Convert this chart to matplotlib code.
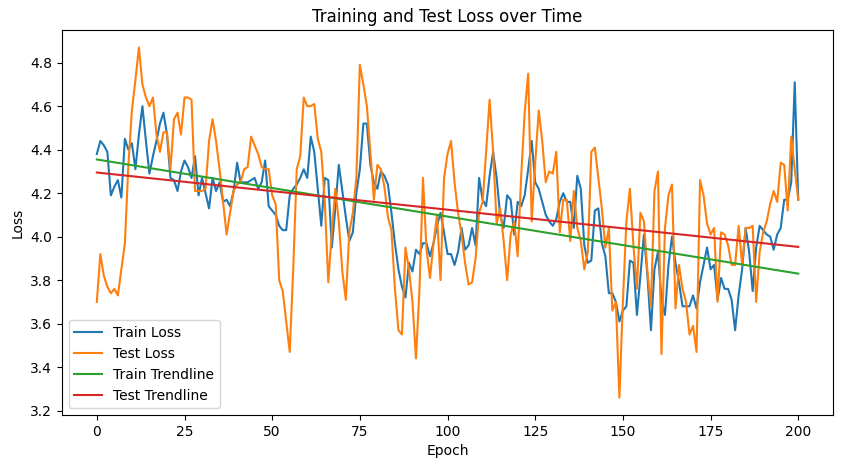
import numpy as np
import matplotlib
matplotlib.use("Agg")
import matplotlib.pyplot as plt

# valores (epoch 0..200)
train_loss = [
    4.38, 4.44, 4.42, 4.39, 4.19, 4.23, 4.26, 4.18, 4.45, 4.40,
    4.43, 4.31, 4.47, 4.60, 4.44, 4.29, 4.37, 4.44, 4.52, 4.57,
    4.47, 4.27, 4.26, 4.21, 4.30, 4.35, 4.32, 4.27, 4.37, 4.19,
    4.27, 4.20, 4.13, 4.27, 4.21, 4.25, 4.16, 4.17, 4.14, 4.21,
    4.34, 4.25, 4.25, 4.25, 4.26, 4.27, 4.22, 4.25, 4.35, 4.14,
    4.12, 4.10, 4.05, 4.03, 4.03, 4.19, 4.22, 4.24, 4.27, 4.31,
    4.27, 4.46, 4.39, 4.22, 4.05, 4.27, 4.26, 3.95, 4.13, 4.33,
    4.21, 4.09, 3.98, 4.02, 4.20, 4.31, 4.52, 4.52, 4.33, 4.25,
    4.22, 4.30, 4.28, 4.24, 4.11, 3.97, 3.85, 3.77, 3.72, 3.88,
    3.84, 3.94, 3.92, 3.97, 3.97, 3.91, 3.97, 4.05, 4.11, 4.02,
    3.92, 3.92, 3.87, 3.93, 4.04, 3.94, 3.96, 4.04, 3.96, 4.27,
    4.17, 4.14, 4.28, 4.39, 4.27, 4.10, 4.04, 4.19, 4.17, 4.01,
    4.16, 4.14, 4.19, 4.31, 4.44, 4.25, 4.22, 4.16, 4.10, 4.07,
    4.05, 4.08, 4.16, 4.20, 4.16, 4.16, 4.04, 4.28, 4.22, 3.96,
    3.88, 3.89, 4.12, 4.13, 3.97, 3.91, 3.74, 3.74, 3.70, 3.61,
    3.66, 3.68, 3.89, 3.88, 3.64, 3.82, 4.01, 3.82, 3.57, 3.85,
    3.93, 3.71, 3.64, 3.87, 4.00, 3.88, 3.79, 3.68, 3.68, 3.68,
    3.73, 3.67, 3.79, 3.87, 3.95, 3.85, 3.87, 3.71, 3.81, 3.76,
    3.76, 3.71, 3.57, 3.73, 3.85, 4.04, 3.93, 3.75, 3.95, 4.05,
    4.03, 4.01, 4.00, 3.94, 4.01, 4.04, 4.17, 4.17, 4.25, 4.71,
    4.17,
]
test_loss = [
    3.70, 3.92, 3.82, 3.77, 3.74, 3.76, 3.73, 3.85, 3.97, 4.33,
    4.58, 4.72, 4.87, 4.70, 4.64, 4.60, 4.64, 4.47, 4.39, 4.48,
    4.48, 4.31, 4.54, 4.57, 4.47, 4.64, 4.64, 4.63, 4.21, 4.21,
    4.21, 4.22, 4.44, 4.54, 4.44, 4.31, 4.16, 4.01, 4.11, 4.21,
    4.24, 4.25, 4.31, 4.32, 4.46, 4.42, 4.38, 4.32, 4.31, 4.31,
    4.19, 4.15, 3.80, 3.75, 3.61, 3.47, 3.85, 4.31, 4.37, 4.64,
    4.60, 4.60, 4.61, 4.45, 4.39, 4.16, 3.79, 4.02, 4.22, 4.07,
    3.84, 3.71, 4.02, 4.11, 4.27, 4.79, 4.70, 4.60, 4.39, 4.17,
    4.33, 4.31, 4.23, 4.09, 4.03, 3.76, 3.57, 3.55, 3.95, 3.85,
    3.70, 3.44, 3.76, 4.27, 3.94, 3.81, 3.97, 4.10, 3.80, 4.27,
    4.38, 4.44, 4.25, 4.11, 4.01, 3.88, 3.78, 3.79, 3.90, 4.11,
    4.16, 4.39, 4.63, 4.39, 4.06, 4.13, 3.98, 3.80, 4.01, 4.07,
    3.91, 4.28, 4.57, 4.75, 4.07, 4.34, 4.58, 4.44, 4.25, 4.30,
    4.29, 4.39, 4.02, 4.17, 4.17, 3.98, 4.21, 4.04, 3.98, 3.85,
    3.93, 4.39, 4.41, 4.27, 4.13, 3.95, 4.04, 3.66, 3.70, 3.26,
    3.70, 4.07, 4.22, 3.96, 3.76, 4.11, 4.07, 3.84, 3.68, 4.21,
    4.30, 3.46, 4.04, 4.19, 4.24, 3.67, 3.87, 3.76, 3.70, 3.55,
    3.59, 3.47, 4.26, 4.19, 4.06, 4.01, 4.04, 3.70, 4.02, 4.01,
    3.96, 3.87, 3.87, 4.05, 3.87, 4.04, 4.04, 4.05, 3.70, 3.93,
    4.02, 4.07, 4.15, 4.21, 4.16, 4.34, 4.33, 4.12, 4.46, 4.31,
    4.17,
]
# tendencias lineales: valor al inicio y al final
trend_epochs = [0, 200]
train_trend = [4.355, 3.830]
test_trend = [4.295, 3.953]

epochs = np.arange(len(train_loss))

fig = plt.figure(figsize=(8.46, 4.68), dpi=100)
ax = fig.add_axes([0.073, 0.113, 0.912, 0.823])

ax.plot(epochs, train_loss, label="Train Loss")
ax.plot(epochs, test_loss, label="Test Loss")
ax.plot(trend_epochs, train_trend, label="Train Trendline")
ax.plot(trend_epochs, test_trend, label="Test Trendline")

ax.set_title("Training and Test Loss over Time")
ax.set_xlabel("Epoch")
ax.set_ylabel("Loss")
ax.legend(loc="lower left")

plt.savefig("out.png", dpi=100)
plt.close()
